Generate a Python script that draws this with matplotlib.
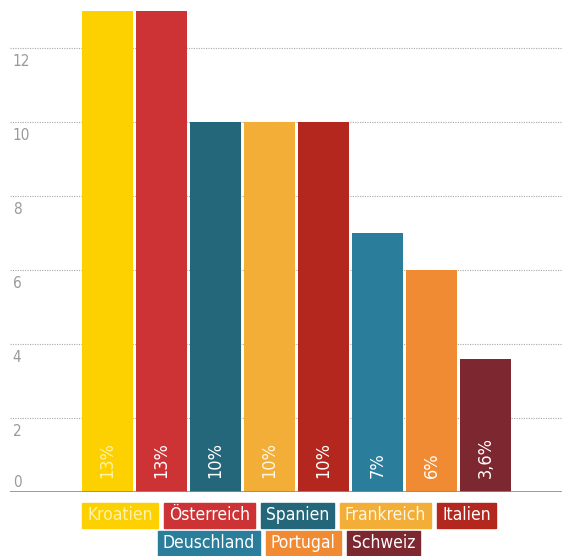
import matplotlib
matplotlib.use("Agg")
import matplotlib.pyplot as plt
from matplotlib import font_manager as fm
from matplotlib.transforms import blended_transform_factory, offset_copy

countries = ["Kroatien", "Österreich", "Spanien", "Frankreich", "Italien",
             "Deuschland", "Portugal", "Schweiz"]
values = [13, 13, 10, 10, 10, 7, 6, 3.6]
value_labels = ["13%", "13%", "10%", "10%", "10%", "7%", "6%", "3,6%"]
colors = ["#FDD000", "#CD3235", "#25677A", "#F2AE36", "#B3271F",
          "#2A7E9B", "#F08B33", "#7D2731"]
text_colors = ["#FFF3A8", "white", "white", "#FFF6E0", "white", "white", "white", "white"]
yticks = [0, 2, 4, 6, 8, 10, 12]
legend_rows = [["Kroatien", "Österreich", "Spanien", "Frankreich", "Italien"],
               ["Deuschland", "Portugal", "Schweiz"]]

cond_path = fm.findfont(fm.FontProperties(family="DejaVu Sans", stretch="condensed"))


def cfont(size):
    return fm.FontProperties(fname=cond_path, size=size)


W, H = 562, 556
fig = plt.figure(figsize=(W / 100, H / 100), dpi=100)
ax = fig.add_axes([10 / W, 64 / H, (W - 10) / W, (H - 64) / H])

x = list(range(len(values)))
ax.bar(x, values, width=0.955, color=colors, zorder=3)
ax.set_xlim((10 - 107.5) / 54, (W - 107.5) / 54)
ax.set_ylim(0, 492 / 37)

for s in ax.spines.values():
    s.set_visible(False)
ax.set_xticks([])
ax.set_yticks([])

for t in yticks[1:]:
    ax.axhline(t, color="#a8a8a8", lw=0.8, ls=(0, (1, 1.2)), zorder=1)
ax.axhline(0, color="#8a8a8a", lw=1.2, zorder=4)

trb = blended_transform_factory(ax.transAxes, ax.transData)
tr_below = offset_copy(trb, fig=fig, x=2, y=-4, units="points")
tr_above = offset_copy(trb, fig=fig, x=2, y=1.5, units="points")
for t in yticks:
    if t == 0:
        ax.text(0.0, t, str(t), transform=tr_above, ha="left", va="bottom",
                fontproperties=cfont(11), color="#9a9a9a")
    else:
        ax.text(0.0, t, str(t), transform=tr_below, ha="left", va="top",
                fontproperties=cfont(11), color="#9a9a9a")

for xi, lab, tc in zip(x, value_labels, text_colors):
    ax.text(xi, 0.38, lab, rotation=90, ha="center", va="bottom",
            fontproperties=cfont(13), color=tc, zorder=5)

# legend: coloured boxes with text, centred rows
cmap = dict(zip(countries, colors))
tmap = dict(zip(countries, text_colors))
fig.canvas.draw()
renderer = fig.canvas.get_renderer()
row_y = [515.5, 543]
gap = 6
padx = 5
for row, yc in zip(legend_rows, row_y):
    texts = []
    widths = []
    for name in row:
        t = fig.text(0, 0, name, color=tmap[name], fontproperties=cfont(12.5),
                     ha="left", va="center")
        bb = t.get_window_extent(renderer)
        texts.append(t)
        widths.append(bb.width + 2 * padx)
    total = sum(widths) + gap * (len(widths) - 1)
    x0 = 289 - total / 2
    for t, w, name in zip(texts, widths, row):
        rect = plt.Rectangle((x0 / W, 1 - (yc + 12.5) / H), w / W, 25 / H,
                             transform=fig.transFigure, color=cmap[name],
                             zorder=1)
        fig.patches.append(rect)
        t.set_position(((x0 + padx) / W, 1 - yc / H))
        t.set_zorder(2)
        x0 += w + gap

fig.savefig("out.png", dpi=100)
